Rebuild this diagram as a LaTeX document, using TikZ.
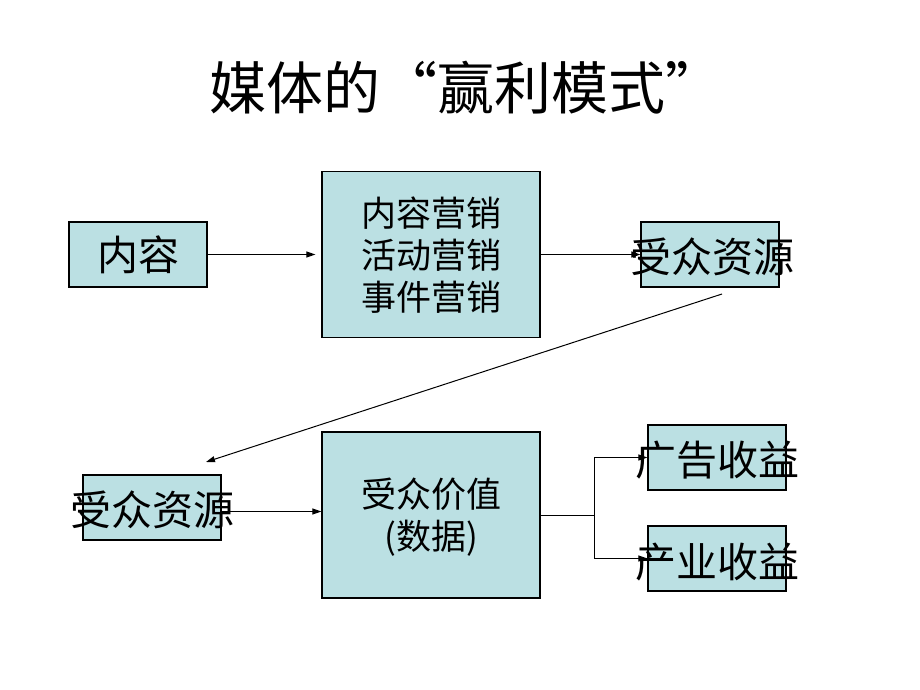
\documentclass[tikz,border=0pt]{standalone}
\usepackage{fontspec}
\setmainfont{Noto Sans CJK SC}
\usetikzlibrary{arrows.meta}
\definecolor{boxfill}{RGB}{187,224,227}
\tikzset{
  box/.style={draw=black, line width=1.2pt, fill=boxfill, inner sep=0pt, minimum width=138pt, minimum height=65pt},
  bigbox/.style={box, minimum width=218pt, minimum height=166pt},
  lbl/.style={inner sep=0pt, font=\fontsize{41}{46}\selectfont},
  mlbl/.style={inner sep=0pt, align=center, font=\fontsize{35}{42}\selectfont},
  conn/.style={line width=1pt, -{Triangle[length=9pt,width=6pt]}},
  plain/.style={line width=1pt}
}
\begin{document}
\begin{tikzpicture}[x=1pt,y=-1pt]
\useasboundingbox (0,0) rectangle (920,690);
\node[inner sep=0pt, font=\fontsize{57}{62}\selectfont] (title) at (466,88) {媒体的“赢利模式”};
% top row
\node[box] (c1) at (138,254.5) {};
\node[lbl] (t1) at (c1.center) {内容};
\node[bigbox] (m1) at (431,254.5) {};
\node[mlbl] (tm1) at (431,255) {内容营销\\活动营销\\事件营销};
\node[box] (r1) at (710,254.5) {};
% bottom row
\node[box] (r2) at (152,507.5) {};
\node[bigbox] (m2) at (431,515) {};
\node[mlbl] (tm2) at (431,517) {受众价值\\(数据)};
\node[box] (a1) at (717,457.5) {};
\node[box] (a2) at (717,558.5) {};
% connectors
\draw[conn, shorten >=6pt] (c1.east) -- (m1.west);
\draw[conn] (m1.east) -- (r1.west);
\coordinate (d1) at (722,294);
\coordinate (d2) at (206,462);
\draw[conn] (d1) -- (d2);
\coordinate (b1) at ([yshift=-4pt]r2.east);
\draw[conn] (b1) -- (b1 -| m2.west);
\coordinate (j) at (594,515);
\draw[plain] (m2.east) -- (j);
\draw[conn] (j) |- (a1.west);
\draw[conn] (j) |- (a2.west);
% texts overflowing boxes
\node[lbl] (tr1) at (712,257) {受众资源};
\node[lbl] (tr2) at (152,510) {受众资源};
\node[lbl] (ta1) at (717,460) {广告收益};
\node[lbl] (ta2) at (717,562) {产业收益};
\end{tikzpicture}
\end{document}
